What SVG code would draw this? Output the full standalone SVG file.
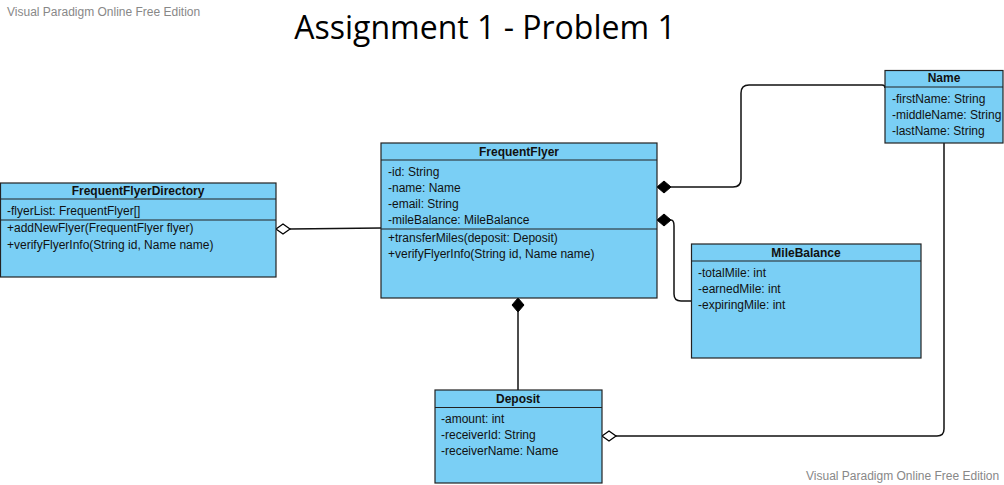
<svg xmlns="http://www.w3.org/2000/svg" width="1004" height="485" viewBox="0 0 1004 485">
<style>
.box{fill:#7acff5;stroke:#222;stroke-width:1.2}
.sep{stroke:#222;stroke-width:1.2}
.t{font-family:"Liberation Sans",Arial,sans-serif;font-size:12px;fill:#111}
.h{font-family:"Liberation Sans",Arial,sans-serif;font-size:12px;font-weight:bold;fill:#111;text-anchor:middle}
.wm{font-family:"Liberation Sans",Arial,sans-serif;font-size:12px;fill:#888}
.c{fill:none;stroke:#111;stroke-width:1.5}
.fd{fill:#000;stroke:#000;stroke-width:1}
.hd{fill:#fff;stroke:#000;stroke-width:1.3}
</style>
<rect width="1004" height="485" fill="#fff"/>
<text class="wm" x="7" y="16">Visual Paradigm Online Free Edition</text>
<text class="wm" x="806" y="480">Visual Paradigm Online Free Edition</text>
<text x="485" y="38.5" text-anchor="middle" font-family="'Open Sans',sans-serif" font-size="32" fill="#000">Assignment 1 - Problem 1</text>

<g id="connectors">
<path class="c" d="M290,229 L381,228"/>
<polygon class="hd" points="276,229 283,224 290,229 283,234"/>
<path class="c" d="M671,187 L733,187 Q741,187 741,179 L741,93 Q741,85 749,85 L882,85 Q885,85 885,88"/>
<polygon class="fd" points="657,187 664,181 671,187 664,193"/>
<path class="c" d="M671,220 Q674,220 674,226 L674,294 Q674,301 681,301 L691,301"/>
<polygon class="fd" points="657,220 664,214 671,220 664,226"/>
<path class="c" d="M518,312 L518,390"/>
<polygon class="fd" points="518,298 524,305 518,312 512,305"/>
<path class="c" d="M944,143 L944,429 Q944,436 937,436 L616,436"/>
<polygon class="hd" points="602,436 609,431 616,436 609,441"/>
</g>

<g id="FrequentFlyerDirectory">
<rect class="box" x="0.5" y="183" width="275.5" height="94"/>
<line class="sep" x1="0.5" y1="199" x2="276" y2="199"/>
<line class="sep" x1="0.5" y1="220" x2="276" y2="220"/>
<text class="h" x="138" y="195">FrequentFlyerDirectory</text>
<text class="t" x="7" y="215">-flyerList: FrequentFlyer[]</text>
<text class="t" x="7" y="232">+addNewFlyer(FrequentFlyer flyer)</text>
<text class="t" x="7" y="249">+verifyFlyerInfo(String id, Name name)</text>
</g>

<g id="FrequentFlyer">
<rect class="box" x="381" y="143" width="276" height="155"/>
<line class="sep" x1="381" y1="160" x2="657" y2="160"/>
<line class="sep" x1="381" y1="229" x2="657" y2="229"/>
<text class="h" x="519" y="156">FrequentFlyer</text>
<text class="t" x="388" y="176">-id: String</text>
<text class="t" x="388" y="192">-name: Name</text>
<text class="t" x="388" y="208">-email: String</text>
<text class="t" x="388" y="224">-mileBalance: MileBalance</text>
<text class="t" x="388" y="242">+transferMiles(deposit: Deposit)</text>
<text class="t" x="388" y="258">+verifyFlyerInfo(String id, Name name)</text>
</g>

<g id="Name">
<rect class="box" x="885" y="70.5" width="118" height="72.5"/>
<line class="sep" x1="885" y1="87" x2="1003" y2="87"/>
<text class="h" x="944" y="82">Name</text>
<text class="t" x="892" y="103">-firstName: String</text>
<text class="t" x="892" y="119">-middleName: String</text>
<text class="t" x="892" y="135">-lastName: String</text>
</g>

<g id="MileBalance">
<rect class="box" x="691.5" y="244" width="229.5" height="114"/>
<line class="sep" x1="691.5" y1="261" x2="921" y2="261"/>
<text class="h" x="806" y="257">MileBalance</text>
<text class="t" x="698" y="277">-totalMile: int</text>
<text class="t" x="698" y="293">-earnedMile: int</text>
<text class="t" x="698" y="309">-expiringMile: int</text>
</g>

<g id="Deposit">
<rect class="box" x="435" y="390" width="167" height="93"/>
<line class="sep" x1="435" y1="407.5" x2="602" y2="407.5"/>
<text class="h" x="518" y="403">Deposit</text>
<text class="t" x="441" y="423">-amount: int</text>
<text class="t" x="441" y="439">-receiverId: String</text>
<text class="t" x="441" y="455">-receiverName: Name</text>
</g>
</svg>
